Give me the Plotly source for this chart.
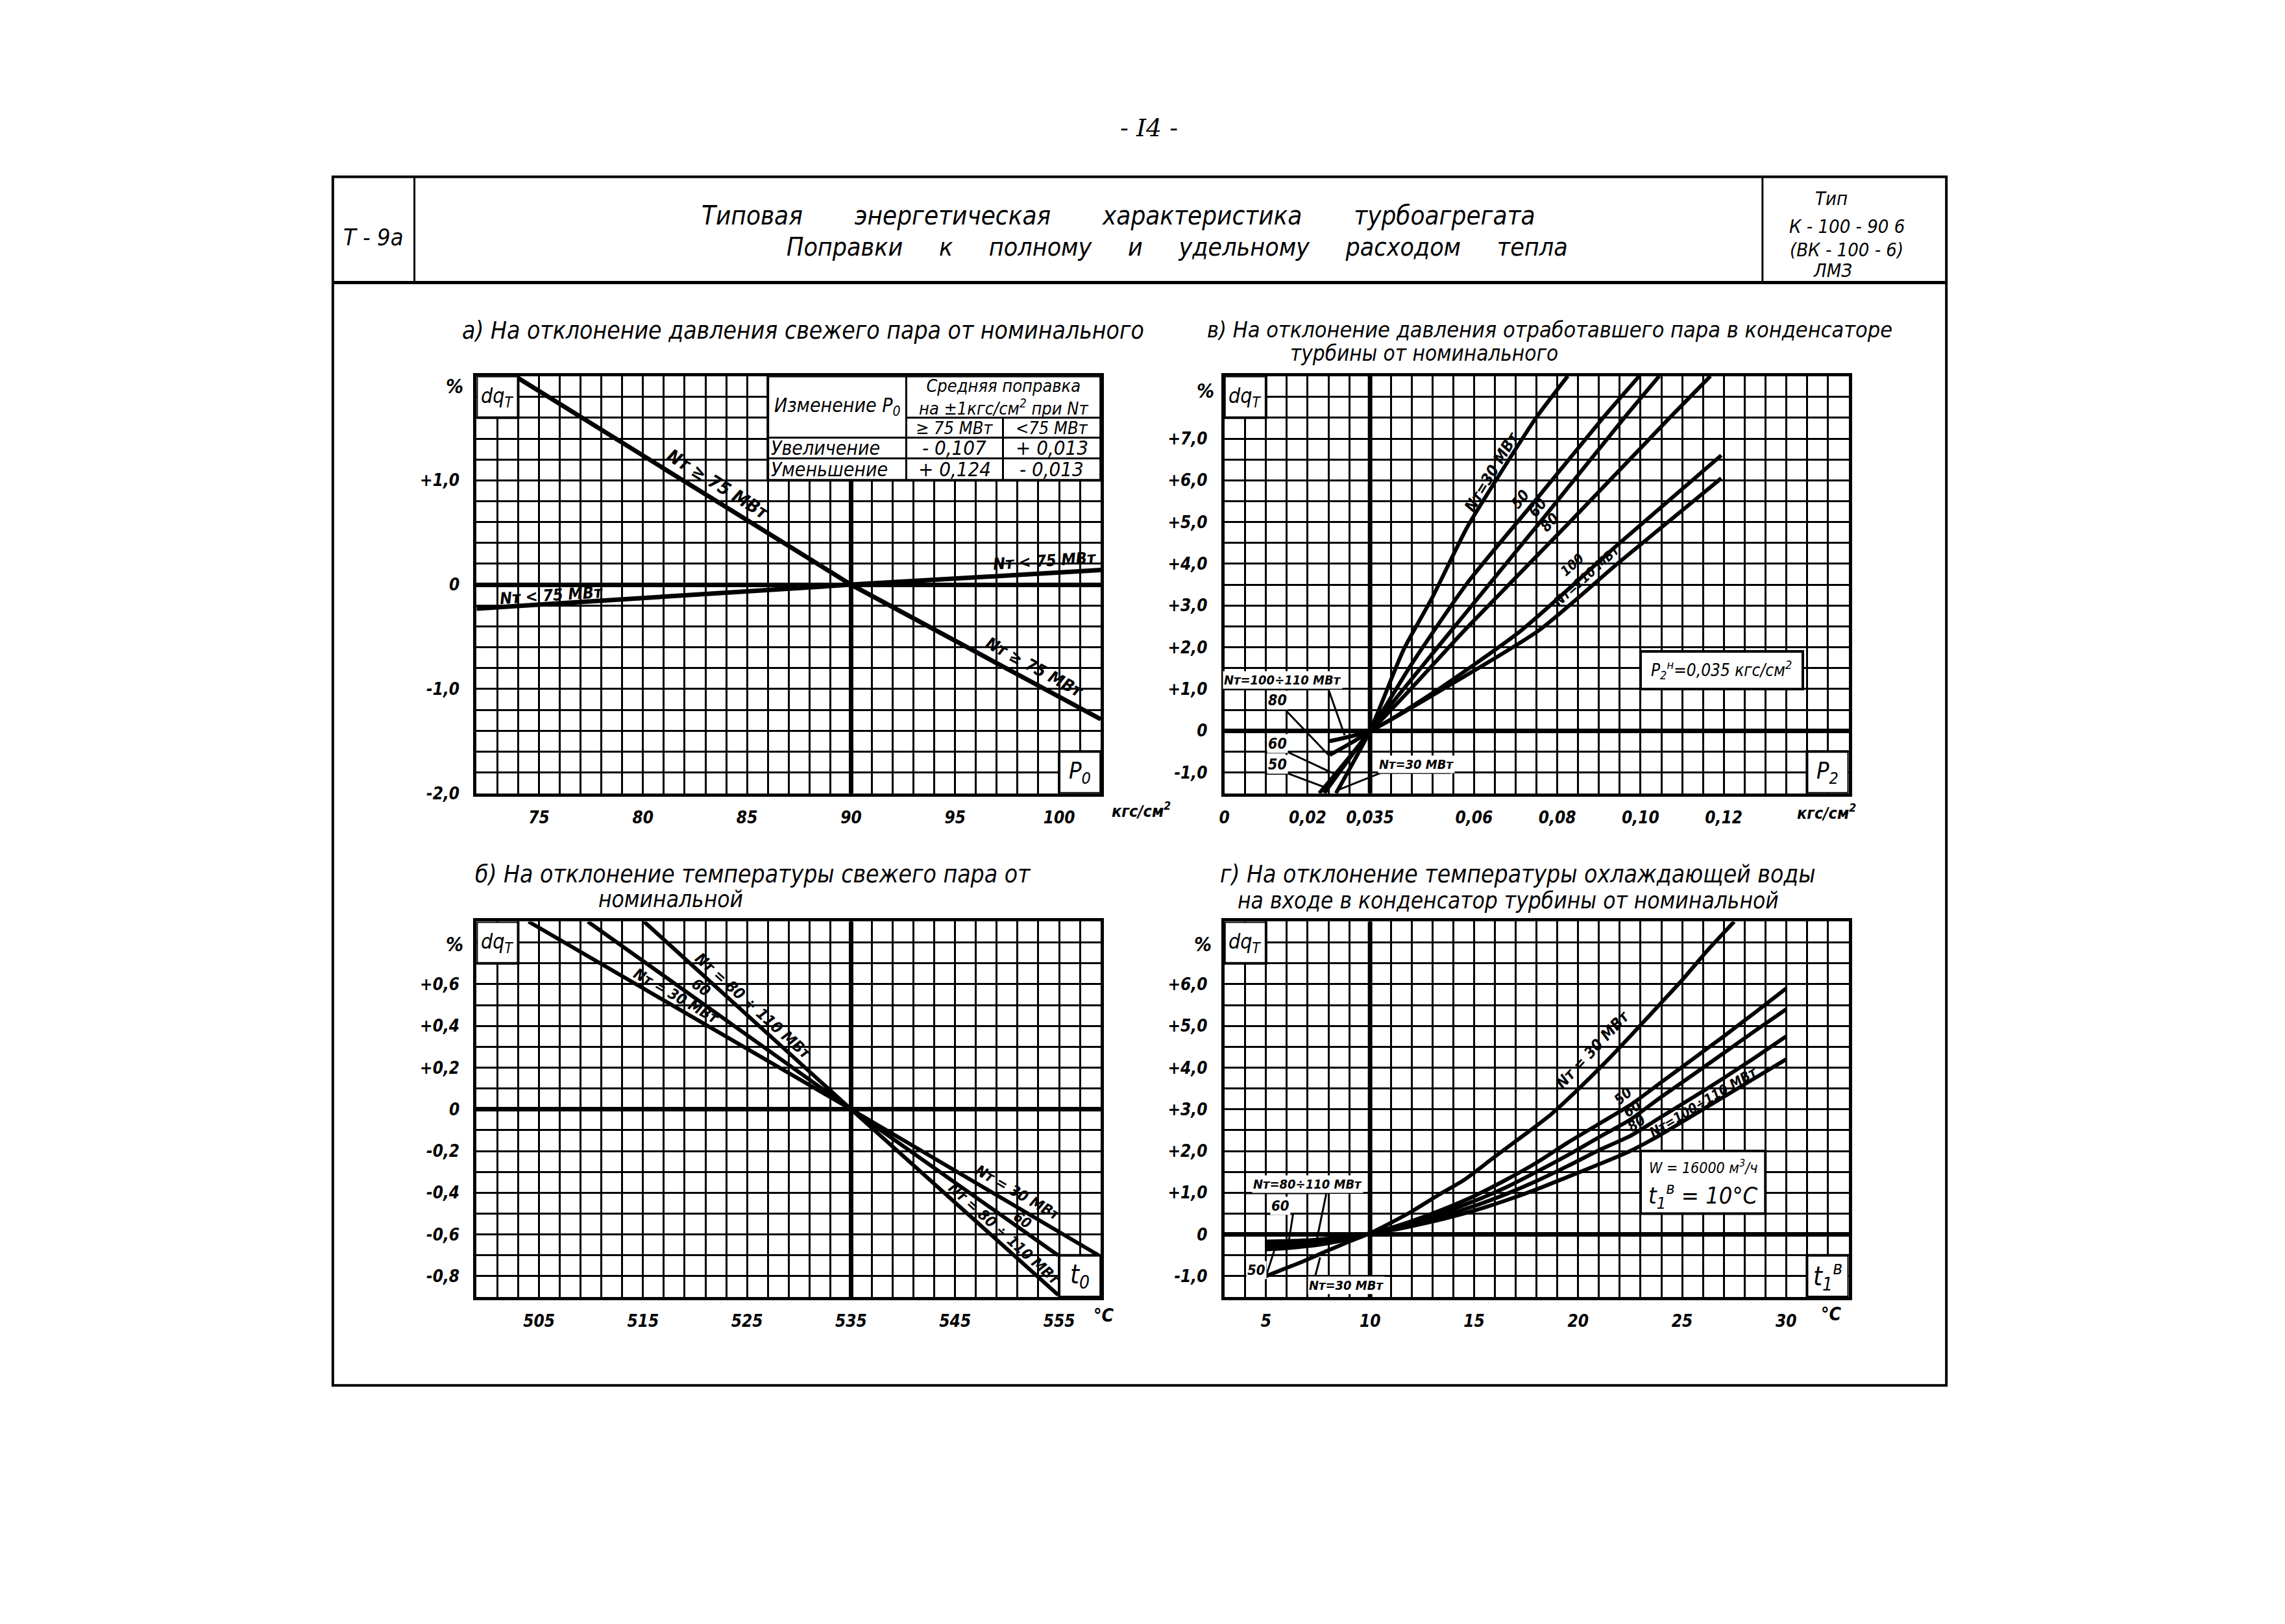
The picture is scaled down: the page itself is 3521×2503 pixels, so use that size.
import plotly.graph_objects as go

W, H = 3521, 2503
FONT = "DejaVu Sans Condensed, DejaVu Sans, Liberation Sans"
SERIF = "DejaVu Serif, Liberation Serif"
INK = "black"
NB = "\u00a0"

# ======================= DATA =======================
# а) deviation of fresh-steam pressure P0 (kgf/cm2) -> dq_T, %
p0_ge75_x = [74, 90, 102]
p0_ge75_y = [1.98, 0.0, -1.29]
p0_lt75_x = [72, 90, 102]
p0_lt75_y = [-0.23, 0.0, 0.14]
p0_xtick_vals = [75, 80, 85, 90, 95, 100]
p0_xtick_text = ["75", "80", "85", "90", "95", "100"]
p0_ytick_vals = [1.0, 0.0, -1.0, -2.0]
p0_ytick_text = ["+1,0", "0", "-1,0", "-2,0"]
p0_tab_head = ["Изменение P<sub>0</sub>",
               "Средняя поправка<br>на ±1кгс/см<sup>2</sup> при Nт",
               "≥ 75 МВт", "&lt;75 МВт"]
p0_tab_rows = ["Увеличение", "Уменьшение"]
p0_tab_ge75 = ["- 0,107", "+ 0,124"]
p0_tab_lt75 = ["+ 0,013", "- 0,013"]

# в) deviation of exhaust pressure P2 (kgf/cm2) -> dq_T, %
p2_x_30 = [0.0268, 0.035, 0.043, 0.050, 0.0583, 0.0665, 0.0749, 0.0825]
p2_y_30 = [-1.5, 0.0, 1.93, 3.2, 4.87, 6.2, 7.5, 8.5]
p2_x_50 = [0.0228, 0.035, 0.045, 0.0583, 0.075, 0.091, 0.0997]
p2_y_50 = [-1.5, 0.0, 1.6, 3.53, 5.55, 7.5, 8.5]
p2_x_60 = [0.0240, 0.035, 0.0583, 0.0775, 0.0961, 0.1045]
p2_y_60 = [-1.5, 0.0, 2.86, 5.2, 7.5, 8.5]
p2_x_80 = [0.0253, 0.035, 0.0583, 0.083, 0.107, 0.1168]
p2_y_80 = [-0.58, 0.0, 2.47, 5.0, 7.5, 8.5]
p2_x_100 = [0.0253, 0.035, 0.05, 0.0713, 0.095, 0.1194]
p2_y_100 = [-0.25, 0.0, 0.9, 2.4, 4.5, 6.6]
p2_x_110 = [0.0253, 0.035, 0.05, 0.0755, 0.095, 0.1194]
p2_y_110 = [-0.25, 0.0, 0.85, 2.4, 4.05, 6.05]
p2_xtick_vals = [0.0, 0.02, 0.035, 0.06, 0.08, 0.10, 0.12]
p2_xtick_text = ["0", "0,02", "0,035", "0,06", "0,08", "0,10", "0,12"]
p2_ytick_vals = [7, 6, 5, 4, 3, 2, 1, 0, -1]
p2_ytick_text = ["+7,0", "+6,0", "+5,0", "+4,0", "+3,0", "+2,0", "+1,0", "0", "-1,0"]

# б) deviation of fresh-steam temperature t0 (°C) -> dq_T, %
t0_x_30 = [504.0, 535.0, 558.8]
t0_y_30 = [0.9, 0.0, -0.7]
t0_x_60 = [509.7, 535.0, 554.9]
t0_y_60 = [0.9, 0.0, -0.7]
t0_x_80 = [515.1, 535.0, 554.9]
t0_y_80 = [0.9, 0.0, -0.89]
t0_xtick_vals = [505, 515, 525, 535, 545, 555]
t0_xtick_text = ["505", "515", "525", "535", "545", "555"]
t0_ytick_vals = [0.6, 0.4, 0.2, 0.0, -0.2, -0.4, -0.6, -0.8]
t0_ytick_text = ["+0,6", "+0,4", "+0,2", "0", "-0,2", "-0,4", "-0,6", "-0,8"]

# г) deviation of cooling-water inlet temperature t1 (°C) -> dq_T, %
t1_x_30 = [5, 6, 7, 8, 9, 10, 11, 12, 13.3, 14.5, 16.2, 17.5, 18.7, 20.0,
           21.2, 22.5, 23.8, 25.0, 26.2, 27.5]
t1_y_30 = [-1.0, -0.8, -0.6, -0.38, -0.17, 0.03, 0.28, 0.55, 0.95, 1.3, 1.94,
           2.42, 2.88, 3.48, 4.07, 4.75, 5.45, 6.1, 6.8, 7.5]
t1_x = [5, 6, 7, 8, 9, 10, 11, 12, 13.5, 15, 16.5, 18, 19.5, 21, 22.5, 24,
        25.5, 27, 28.5, 30]
t1_y_50 = [-0.36, -0.33, -0.28, -0.21, -0.11, 0.02, 0.16, 0.32, 0.6, 0.92,
           1.3, 1.72, 2.2, 2.65, 3.1, 3.65, 4.2, 4.75, 5.32, 5.9]
t1_y_60 = [-0.28, -0.26, -0.22, -0.16, -0.08, 0.02, 0.14, 0.28, 0.52, 0.8,
           1.12, 1.5, 1.9, 2.33, 2.75, 3.3, 3.82, 4.35, 4.88, 5.4]
t1_y_80 = [-0.22, -0.21, -0.18, -0.13, -0.06, 0.02, 0.12, 0.24, 0.44, 0.68,
           0.96, 1.28, 1.64, 2.02, 2.36, 2.82, 3.28, 3.75, 4.24, 4.75]
t1_y_100 = [-0.17, -0.16, -0.14, -0.10, -0.05, 0.02, 0.10, 0.20, 0.37, 0.57,
            0.81, 1.08, 1.38, 1.68, 2.0, 2.4, 2.85, 3.3, 3.75, 4.2]
t1_xtick_vals = [5, 10, 15, 20, 25, 30]
t1_xtick_text = ["5", "10", "15", "20", "25", "30"]
t1_ytick_vals = [6, 5, 4, 3, 2, 1, 0, -1]
t1_ytick_text = ["+6,0", "+5,0", "+4,0", "+3,0", "+2,0", "+1,0", "0", "-1,0"]

# ======================= LAYOUT GEOMETRY =======================
X_LEFT = [720 / W, 1684 / W]
X_RIGHT = [1875 / W, 2839 / W]
Y_TOP = [1 - 1222 / H, 1 - 575 / H]
Y_BOT = [1 - 2003 / H, 1 - 1421 / H]
GRID_W = 3
CURVE_W = 6


def px(X):
    return X / W


def py(Y):
    return 1 - Y / H


def fnt(size, family=FONT, bold=False):
    d = dict(family=family, size=size, color=INK, style="italic")
    if bold:
        d["weight"] = "bold"
    return d


def grid(lo, hi, step):
    n = int(round((hi - lo) / step))
    return [round(lo + i * step, 6) for i in range(n + 1)]


def make_axis(domain, lo, hi, step, tvals, ttext, anchor, is_x):
    d = dict(domain=domain, range=[lo, hi], anchor=anchor,
             tickmode="array", tickvals=tvals, ticktext=ttext,
             showgrid=True, gridcolor=INK, gridwidth=GRID_W,
             minor=dict(tickmode="array", tickvals=grid(lo, hi, step),
                        showgrid=True, gridcolor=INK, gridwidth=GRID_W, ticks=""),
             showline=True, linecolor=INK, linewidth=5, mirror=True,
             ticks="", tickfont=fnt(26, bold=True), fixedrange=True,
             ticklabelstandoff=10 if is_x else 16)
    if is_x:
        d["zeroline"] = False
    else:
        d.update(zeroline=True, zerolinecolor=INK, zerolinewidth=7)
    return d


fig = go.Figure()


def curve(x, y, xa, ya, width=CURVE_W, spline=False):
    line = dict(color=INK, width=width)
    if spline:
        line.update(shape="spline", smoothing=0.6)
    fig.add_trace(go.Scatter(x=x, y=y, xaxis=xa, yaxis=ya, mode="lines",
                             line=line, showlegend=False, hoverinfo="skip"))


# --- curves
curve(p0_ge75_x, p0_ge75_y, "x", "y", 7)
curve(p0_lt75_x, p0_lt75_y, "x", "y", 7)

for cx, cy in [(p2_x_30, p2_y_30), (p2_x_50, p2_y_50), (p2_x_60, p2_y_60),
               (p2_x_80, p2_y_80), (p2_x_100, p2_y_100), (p2_x_110, p2_y_110)]:
    curve(cx, cy, "x2", "y2", spline=True)

for cx, cy in [(t0_x_30, t0_y_30), (t0_x_60, t0_y_60), (t0_x_80, t0_y_80)]:
    curve(cx, cy, "x3", "y3")

curve(t1_x_30, t1_y_30, "x4", "y4", spline=True)
for cy in [t1_y_50, t1_y_60, t1_y_80, t1_y_100]:
    curve(t1_x, cy, "x4", "y4", spline=True)

# --- leader lines (label call-outs)
leaders = [
    ("x2", "y2", [0.0, 0.0250, 0.0289], [0.99, 0.99, -0.11]),
    ("x2", "y2", [0.0100, 0.0146, 0.0250], [0.5, 0.5, -0.58]),
    ("x2", "y2", [0.0100, 0.0154, 0.0263], [-0.52, -0.52, -1.03]),
    ("x2", "y2", [0.0100, 0.0154, 0.0237], [-1.03, -1.03, -1.34]),
    ("x2", "y2", [0.0544, 0.0376, 0.0268], [-1.01, -1.01, -1.44]),
    ("x4", "y4", [4.0, 7.9, 7.45], [0.99, 0.99, -0.1]),
    ("x4", "y4", [5.0, 6.3, 6.06], [0.49, 0.49, -0.27]),
    ("x4", "y4", [4.0, 5.0, 5.4], [-1.0, -1.0, -0.38]),
    ("x4", "y4", [10.5, 7.15, 7.6], [-1.4, -1.4, -0.55]),
]
for xa, ya, lx, ly in leaders:
    fig.add_trace(go.Scatter(x=lx, y=ly, xaxis=xa, yaxis=ya, mode="lines",
                             line=dict(color=INK, width=3),
                             showlegend=False, hoverinfo="skip"))

# --- axes
fig.update_layout(
    xaxis=make_axis(X_LEFT, 72, 102, 1, p0_xtick_vals, p0_xtick_text, "y", True),
    yaxis=make_axis(Y_TOP, -2.0, 2.0, 0.2, p0_ytick_vals, p0_ytick_text, "x", False),
    xaxis2=make_axis(X_RIGHT, 0.0, 0.15, 0.005, p2_xtick_vals, p2_xtick_text, "y2", True),
    yaxis2=make_axis(Y_TOP, -1.5, 8.5, 0.5, p2_ytick_vals, p2_ytick_text, "x2", False),
    xaxis3=make_axis(X_LEFT, 499, 559, 2, t0_xtick_vals, t0_xtick_text, "y3", True),
    yaxis3=make_axis(Y_BOT, -0.9, 0.9, 0.1, t0_ytick_vals, t0_ytick_text, "x3", False),
    xaxis4=make_axis(X_RIGHT, 3, 33, 1, t1_xtick_vals, t1_xtick_text, "y4", True),
    yaxis4=make_axis(Y_BOT, -1.5, 7.5, 0.5, t1_ytick_vals, t1_ytick_text, "x4", False),
)

shapes = []
ann = []


def A(text, x, y, xref="paper", yref="paper", size=26, angle=0, bg=None,
      xanchor="center", yanchor="middle", family=FONT, bold=False):
    d = dict(text=text, x=x, y=y, xref=xref, yref=yref, showarrow=False,
             textangle=angle, font=fnt(size, family, bold), xanchor=xanchor,
             yanchor=yanchor)
    if bg:
        d.update(bgcolor=bg, borderpad=1)
    ann.append(d)


def L(text, x, y, xref, yref, size, angle=0, bg=None):
    """label written on the chart field (heavier lettering)"""
    A(text, x, y, xref, yref, size, angle, bg, bold=True)


def vline(xref, x, width=7):
    yref = xref.replace("x", "y")
    shapes.append(dict(type="line", xref=xref, yref=yref + " domain",
                       x0=x, x1=x, y0=0, y1=1, layer="below",
                       line=dict(color=INK, width=width)))


def box(xref, yref, x0, x1, y0, y1, width=4):
    shapes.append(dict(type="rect", xref=xref, yref=yref, x0=x0, x1=x1, y0=y0, y1=y1,
                       fillcolor="white", layer="above",
                       line=dict(color=INK, width=width)))


def seg(xref, yref, x0, y0, x1, y1, width=3):
    shapes.append(dict(type="line", xref=xref, yref=yref, x0=x0, x1=x1, y0=y0, y1=y1,
                       layer="above", line=dict(color=INK, width=width)))


# heavy reference lines (nominal values)
vline("x", 90)
vline("x2", 0.035)
vline("x3", 535)
vline("x4", 10)

# ---------- а) box elements ----------
box("x", "y", 72, 74, 1.6, 2.0)
A("dq<sub>T</sub>", 73, 1.8, "x", "y", 32)
box("x", "y", 100, 102, -2.0, -1.6)
A("P<sub>0</sub>", 101, -1.8, "x", "y", 36)
cols = [86, 92.65, 97.3, 102]
rows = [2.0, 1.6, 1.41, 1.21, 1.0]
box("x", "y", cols[0], cols[3], rows[4], rows[0])
seg("x", "y", cols[1], rows[0], cols[1], rows[4])
seg("x", "y", cols[2], rows[1], cols[2], rows[4])
seg("x", "y", cols[1], rows[1], cols[3], rows[1])
seg("x", "y", cols[0], rows[2], cols[3], rows[2])
seg("x", "y", cols[0], rows[3], cols[3], rows[3])
A(p0_tab_head[0], (cols[0] + cols[1]) / 2, (rows[0] + rows[2]) / 2, "x", "y", 30)
A(p0_tab_head[1], (cols[1] + cols[3]) / 2, (rows[0] + rows[1]) / 2, "x", "y", 27)
A(p0_tab_head[2], (cols[1] + cols[2]) / 2, (rows[1] + rows[2]) / 2, "x", "y", 27)
A(p0_tab_head[3], (cols[2] + cols[3]) / 2, (rows[1] + rows[2]) / 2, "x", "y", 27)
for i in range(2):
    yc = (rows[2 + i] + rows[3 + i]) / 2
    A(p0_tab_rows[i], cols[0] + 0.08, yc, "x", "y", 30, xanchor="left")
    A(p0_tab_ge75[i], (cols[1] + cols[2]) / 2, yc, "x", "y", 31)
    A(p0_tab_lt75[i], (cols[2] + cols[3]) / 2, yc, "x", "y", 31)
L("Nт ≥ 75 МВт", 83.6, 0.96, "x", "y", 28, 31.8)
L("Nт ≥ 75 МВт", 98.8, -0.79, "x", "y", 26, 28.4)
L("Nт &lt; 75 МВт", 75.6, -0.10, "x", "y", 25, -3.7)
L("Nт &lt; 75 МВт", 99.3, 0.23, "x", "y", 25, -3.7)
A("%", -0.035, 0.975, "x domain", "y domain", 30, bold=True)
A("кгс/см<sup>2</sup>", 1.065, -0.04, "x domain", "y domain", 25, bold=True)

# ---------- в) ----------
box("x2", "y2", 0.0, 0.01, 7.5, 8.5)
A("dq<sub>T</sub>", 0.005, 8.0, "x2", "y2", 32)
box("x2", "y2", 0.14, 0.15, -1.5, -0.5)
A("P<sub>2</sub>", 0.145, -1.0, "x2", "y2", 36)
box("x2", "y2", 0.10, 0.139, 1.0, 1.9)
A("P<sub>2</sub><sup>н</sup>=0,035 кгс/см<sup>2</sup>", 0.1195, 1.45, "x2", "y2", 26)
L("Nт=30 МВт", 0.0643, 6.2, "x2", "y2", 24, -59)
L("50", 0.0711, 5.55, "x2", "y2", 23, -51)
L("60", 0.0753, 5.35, "x2", "y2", 23, -51)
L("80", 0.0781, 5.0, "x2", "y2", 23, -46)
L("100", 0.0835, 3.97, "x2", "y2", 21, -42)
L("Nт=110 МВт", 0.0871, 3.72, "x2", "y2", 20, -42)
L("Nт=100÷110 МВт", 0.0140, 1.22, "x2", "y2", 20, bg="white")
L("80", 0.0127, 0.74, "x2", "y2", 23, bg="white")
L("60", 0.0127, -0.31, "x2", "y2", 23, bg="white")
L("50", 0.0127, -0.80, "x2", "y2", 23, bg="white")
L("Nт=30 МВт", 0.0462, -0.80, "x2", "y2", 20, bg="white")
A("%", -0.03, 0.965, "x2 domain", "y2 domain", 30, bold=True)
A("кгс/см<sup>2</sup>", 0.965, -0.045, "x2 domain", "y2 domain", 25, bold=True)

# ---------- б) ----------
box("x3", "y3", 499, 503, 0.7, 0.9)
A("dq<sub>T</sub>", 501, 0.8, "x3", "y3", 32)
box("x3", "y3", 555, 559, -0.9, -0.7)
A("t<sub>0</sub>", 557, -0.8, "x3", "y3", 40)
L("Nт = 80 ÷ 110 МВт", 525.6, 0.495, "x3", "y3", 24, 42)
L("60", 520.6, 0.585, "x3", "y3", 23, 35.5)
L("Nт = 30 МВт", 518.2, 0.545, "x3", "y3", 23, 30)
L("Nт = 30 МВт", 551.0, -0.40, "x3", "y3", 23, 30)
L("60", 551.5, -0.53, "x3", "y3", 22, 35)
L("Nт = 80 ÷ 110 МВт", 549.7, -0.595, "x3", "y3", 23, 42)
A("%", -0.035, 0.94, "x3 domain", "y3 domain", 30, bold=True)
A("°C", 1.005, -0.05, "x3 domain", "y3 domain", 28, bold=True)

# ---------- г) ----------
box("x4", "y4", 3, 5, 6.5, 7.5)
A("dq<sub>T</sub>", 4, 7.0, "x4", "y4", 32)
box("x4", "y4", 31, 33, -1.5, -0.5)
A("t<sub>1</sub><sup>в</sup>", 32, -1.0, "x4", "y4", 40)
box("x4", "y4", 23, 29, 0.5, 2.0)
A("W = 16000 м<sup>3</sup>/ч", 26, 1.62, "x4", "y4", 23)
A("t<sub>1</sub><sup>в</sup> = 10°C", 26, 0.92, "x4", "y4", 36)
L("Nт = 30 МВт", 20.7, 4.42, "x4", "y4", 24, -47)
L("50", 22.15, 3.32, "x4", "y4", 22, -40)
L("60", 22.6, 3.02, "x4", "y4", 22, -37)
L("80", 22.8, 2.66, "x4", "y4", 22, -34)
L("Nт=100÷110 МВт", 26.0, 3.17, "x4", "y4", 21, -31)
L("Nт=80÷110 МВт", 7.0, 1.2, "x4", "y4", 20, bg="white")
L("60", 5.7, 0.68, "x4", "y4", 22, bg="white")
L("50", 4.55, -0.85, "x4", "y4", 22, bg="white")
L("Nт=30 МВт", 8.85, -1.22, "x4", "y4", 20, bg="white")
A("%", -0.035, 0.94, "x4 domain", "y4 domain", 30, bold=True)
A("°C", 0.972, -0.045, "x4 domain", "y4 domain", 28, bold=True)

# ---------- page frame & header ----------
FX0, FX1, FY0, FY1, HY = px(498), px(2990), py(2140), py(266), py(430)
shapes.append(dict(type="rect", xref="paper", yref="paper", x0=FX0, x1=FX1,
                   y0=FY0, y1=FY1, line=dict(color=INK, width=4), layer="above"))
shapes.append(dict(type="line", xref="paper", yref="paper", x0=FX0, x1=FX1,
                   y0=HY, y1=HY, line=dict(color=INK, width=5), layer="above"))
for X in (624, 2706):
    shapes.append(dict(type="line", xref="paper", yref="paper", x0=px(X), x1=px(X),
                       y0=HY, y1=FY1, line=dict(color=INK, width=3), layer="above"))

A("- I4 -", px(1758), py(190), size=38, family=SERIF)
A("Т - 9а", px(560), py(360), size=36)
A((NB * 7).join(["Типовая", "энергетическая", "характеристика", "турбоагрегата"]),
  px(1711), py(326), size=40)
A((NB * 5).join(["Поправки", "к", "полному", "и", "удельному", "расходом", "тепла"]),
  px(1802), py(375), size=39)
A("Тип", px(2812), py(300), size=29)
A("К - 100 - 90 6", px(2836), py(343), size=29)
A("(ВК - 100 - 6)", px(2836), py(379), size=29)
A("ЛМЗ", px(2814), py(411), size=29)

A("а) На отклонение давления свежего пара от номинального",
  px(696), py(505), size=37, xanchor="left")
A("в) На отклонение давления отработавшего пара в конденсаторе",
  px(1846), py(503), size=34, xanchor="left")
A("турбины от номинального", px(2183), py(540), size=33)
A("б) На отклонение температуры свежего пара от",
  px(716), py(1348), size=37, xanchor="left")
A("номинальной", px(1020), py(1386), size=35)
A("г) На отклонение температуры охлаждающей воды",
  px(1866), py(1348), size=37, xanchor="left")
A("на входе в конденсатор турбины от номинальной",
  px(1893), py(1388), size=35, xanchor="left")

fig.update_layout(
    width=W, height=H, margin=dict(l=0, r=0, t=0, b=0, pad=0),
    paper_bgcolor="white", plot_bgcolor="white",
    showlegend=False, shapes=shapes, annotations=ann,
    font=fnt(26),
)

fig.write_html("out.html")
